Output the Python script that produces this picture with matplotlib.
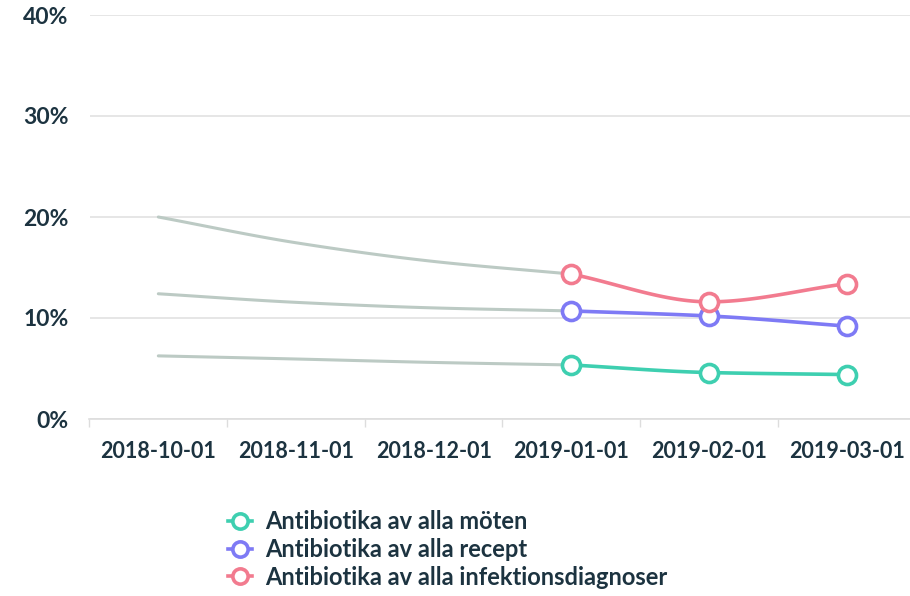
import numpy as np
import matplotlib
matplotlib.use("Agg")
import matplotlib.pyplot as plt
from matplotlib.lines import Line2D

# data (share)
months = ["2018-10-01", "2018-11-01", "2018-12-01", "2019-01-01", "2019-02-01", "2019-03-01"]
trend_diag = [0.200, 0.1745, 0.156, 0.1435]    # grey lead-in, first 4 months
trend_recept = [0.124, 0.1155, 0.110, 0.107]
trend_moten = [0.0625, 0.0594, 0.056, 0.0535]
diag = [0.1435, 0.116, 0.134]                  # 2019-01 .. 2019-03
recept = [0.107, 0.102, 0.092]
moten = [0.0535, 0.046, 0.044]
labels = ["Antibiotika av alla möten",
          "Antibiotika av alla recept",
          "Antibiotika av alla infektionsdiagnoser"]

GREEN = "#3ecfb0"
PURPLE = "#7e7af5"
PINK = "#f27b8f"
GREY = "#bccac4"
TEXT = "#1c3340"

plt.rcParams["font.family"] = ["Lato", "DejaVu Sans"]


def smooth(x, y, n=40):
    # monotone cubic (Fritsch-Carlson), just for drawing the curve
    x = np.asarray(x, float)
    y = np.asarray(y, float)
    h = np.diff(x)
    d = np.diff(y) / h
    m = np.zeros_like(y)
    m[0], m[-1] = d[0], d[-1]
    for i in range(1, len(y) - 1):
        if d[i - 1] * d[i] <= 0:
            m[i] = 0
        else:
            m[i] = 2 / (1 / d[i - 1] + 1 / d[i])
    xs, ys = [], []
    for i in range(len(x) - 1):
        t = np.linspace(0, 1, n)
        h00 = 2 * t**3 - 3 * t**2 + 1
        h10 = t**3 - 2 * t**2 + t
        h01 = -2 * t**3 + 3 * t**2
        h11 = t**3 - t**2
        xs.append(x[i] + t * h[i])
        ys.append(h00 * y[i] + h10 * h[i] * m[i] + h01 * y[i + 1] + h11 * h[i] * m[i + 1])
    return np.concatenate(xs), np.concatenate(ys)


fig = plt.figure(figsize=(9.1, 5.96), dpi=100)
ax = fig.add_axes([89.5 / 910, 177 / 596, 826 / 910, 404 / 596])

xs_trend = np.arange(4)
xs_now = np.arange(3, 6)
for tr in [trend_diag, trend_recept, trend_moten]:
    sx, sy = smooth(xs_trend, tr)
    ax.plot(sx, sy, color=GREY, lw=2.2, zorder=2, solid_capstyle="round")

for vals, col in [(moten, GREEN), (recept, PURPLE), (diag, PINK)]:
    sx, sy = smooth(xs_now, vals)
    ax.plot(sx, sy, color=col, lw=2.6, zorder=3)
    ax.plot(xs_now, vals, ls="none", marker="o", ms=13, mfc="white",
            mec=col, mew=2.6, zorder=4)

ax.set_xlim(-0.5, 5.5)
ax.set_ylim(0, 0.40)
ax.set_yticks([0, 0.1, 0.2, 0.3, 0.4])
ax.set_yticklabels(["0%", "10%", "20%", "30%", "40%"])
ax.set_xticks(range(6))
ax.set_xticklabels(months)
ax.set_xticks(np.arange(-0.5, 6, 1), minor=True)
ax.tick_params(axis="x", which="major", length=0, pad=16, labelsize=15.5, colors=TEXT)
ax.tick_params(axis="x", which="minor", length=6, color="#dddddd", width=1)
ax.tick_params(axis="y", length=0, pad=15, labelsize=16.5, colors=TEXT)
for lab in ax.get_xticklabels() + ax.get_yticklabels():
    lab.set_fontweight("bold")

ax.grid(axis="y", color="#e2e2e2", lw=1.2)
ax.set_axisbelow(True)
for s in ["top", "right", "left"]:
    ax.spines[s].set_visible(False)
ax.spines["bottom"].set_color("#dddddd")
ax.spines["bottom"].set_linewidth(1.2)

handles = [Line2D([], [], color=c, lw=2.6, marker="o", ms=11, mfc="white", mec=c, mew=2.6)
           for c in [GREEN, PURPLE, PINK]]
leg = fig.legend(handles, labels, loc="upper left", bbox_to_anchor=(214 / 910, 1 - 496 / 596),
                 frameon=False, handlelength=1.0, handletextpad=0.55, labelspacing=0.2,
                 borderaxespad=0.2, prop={"size": 17, "weight": "bold"})
for t in leg.get_texts():
    t.set_color(TEXT)

fig.savefig("out.png", dpi=100)
